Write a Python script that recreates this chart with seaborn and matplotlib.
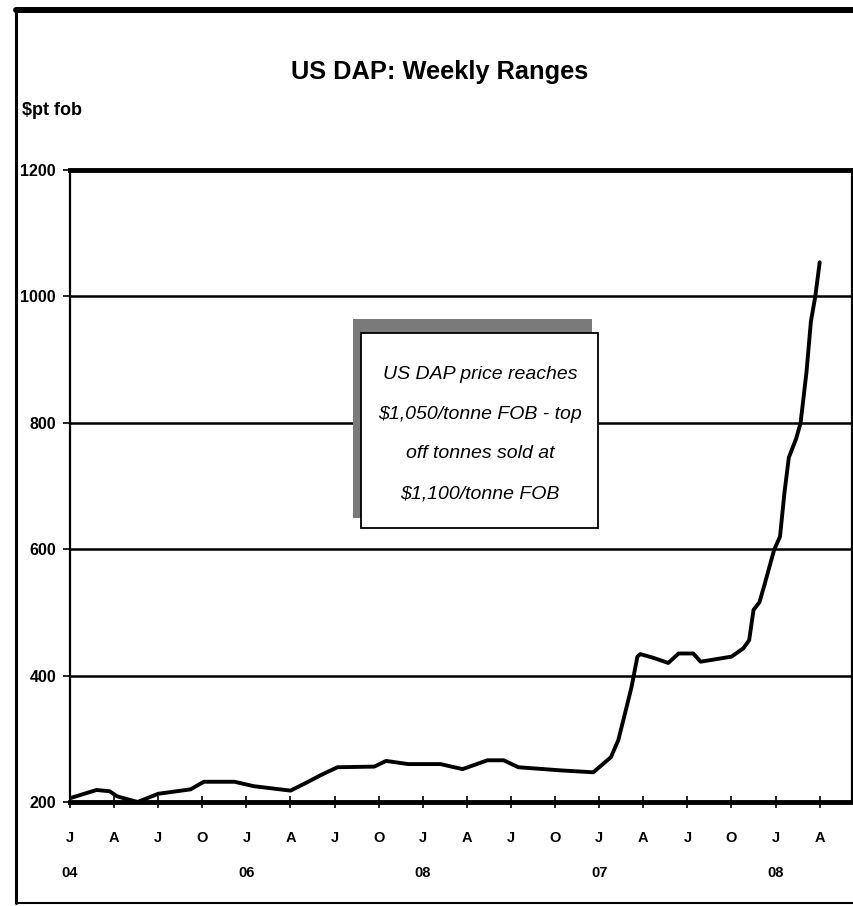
import matplotlib
matplotlib.use("Agg")
import matplotlib.pyplot as plt
import matplotlib.patches as mpatches
from matplotlib.lines import Line2D
import seaborn as sns
import pandas as pd

# months since Jan 2004, weekly price curve ($/t fob)
month = [0, 1.8, 2.7, 3.2, 4.6, 6.0, 8.2, 9.1, 11.2, 12.5, 15.0, 16.2, 17.1,
         18.2, 20.7, 21.5, 23.0, 25.2, 26.7, 28.4, 29.5, 30.5, 33.4, 35.6,
         36.8, 37.3, 37.7, 38.2, 38.6, 38.8, 39.7, 40.7, 41.4, 42.4, 42.9,
         45.0, 45.8, 46.2, 46.5, 46.9, 47.2, 47.9, 48.3, 48.6, 48.9, 49.1,
         49.4, 49.7, 50.1, 50.4, 50.7, 51.0]
price = [206, 219, 217, 209, 200, 213, 220, 232, 232, 225, 218, 232, 243,
         255, 256, 265, 260, 260, 252, 266, 266, 255, 250, 247,
         271, 298, 335, 382, 430, 434, 428, 420, 435, 435, 422,
         430, 443, 456, 504, 516, 540, 599, 620, 689, 745, 757,
         775, 800, 880, 960, 1000, 1054]

quarter_ticks = list(range(0, 52, 3))
quarter_labels = ["J", "A", "J", "O"] * 4 + ["J", "A"]
year_ticks = [0, 12, 24, 36, 48]
year_labels = ["04", "06", "08", "07", "08"]
y_ticks = [200, 400, 600, 800, 1000, 1200]

note = "US DAP price reaches\n$1,050/tonne FOB - top\noff tonnes sold at\n$1,100/tonne FOB"

sns.set_style("white")
plt.rcParams["font.family"] = ["Liberation Sans", "DejaVu Sans"]
for k in ["text.color", "xtick.color", "ytick.color", "axes.labelcolor"]:
    plt.rcParams[k] = "black"

df = pd.DataFrame({"month": month, "price": price})

W, H = 854, 906
fig = plt.figure(figsize=(W / 100, H / 100), dpi=100)
ax = fig.add_axes([70 / W, 1 - 802 / H, 782 / W, 632 / H])

sns.lineplot(data=df, x="month", y="price", ax=ax, color="black",
             linewidth=2.8, estimator=None, sort=False)

ax.set_xlim(0, 782 / 14.7)
ax.set_ylim(200, 1200)
ax.set_xlabel("")
ax.set_ylabel("")

ax.set_yticks(y_ticks)
ax.set_yticklabels([str(v) for v in y_ticks], fontsize=11.5, fontweight="bold")
ax.tick_params(axis="y", direction="out", length=5, width=1.2, pad=5,
               left=True)
ax.yaxis.grid(True, color="black", linewidth=1.8)
ax.set_axisbelow(True)

ax.xaxis.remove_overlapping_locs = False
ax.set_xticks(quarter_ticks)
ax.set_xticklabels(quarter_labels, fontsize=10.5, fontweight="bold")
ax.set_xticks(year_ticks, minor=True)
ax.set_xticklabels(year_labels, minor=True, fontsize=10.5, fontweight="bold")
ax.tick_params(axis="x", which="major", direction="inout", length=8,
               width=1.2, pad=17, bottom=True)
ax.tick_params(axis="x", which="minor", length=0, pad=46, bottom=True)

for s in ["top", "bottom"]:
    ax.spines[s].set_linewidth(3.5)
for s in ["left", "right"]:
    ax.spines[s].set_linewidth(1.6)
for s in ax.spines.values():
    s.set_color("black")

# title and unit label
fig.text(440 / W, 1 - 79 / H, "US DAP: Weekly Ranges", ha="center",
         va="baseline", fontsize=18.3, fontweight="bold")
fig.text(22 / W, 1 - 115 / H, "$pt fob", ha="left", va="baseline",
         fontsize=13, fontweight="bold")

# callout box with offset shadow
fig.add_artist(mpatches.Rectangle((353 / W, 1 - 518 / H), 239 / W, 199 / H,
                                  transform=fig.transFigure, facecolor="#7a7a7a",
                                  edgecolor="none", zorder=5))
fig.add_artist(mpatches.Rectangle((361 / W, 1 - 528 / H), 237 / W, 195 / H,
                                  transform=fig.transFigure, facecolor="white",
                                  edgecolor="black", linewidth=1.3, zorder=6))
fig.text(480 / W, 1 - 434 / H, note, ha="center", va="center",
         fontsize=14, style="italic", linespacing=2.75, zorder=7)

# outer frame
fig.add_artist(Line2D([16 / W, 1], [1 - 10 / H, 1 - 10 / H],
                      transform=fig.transFigure, color="black", linewidth=4.3))
fig.add_artist(Line2D([16 / W, 16 / W], [1 - 10 / H, 1 - 903 / H],
                      transform=fig.transFigure, color="black", linewidth=2.2))
fig.add_artist(Line2D([16 / W, 1], [1 - 903 / H, 1 - 903 / H],
                      transform=fig.transFigure, color="black", linewidth=1.5))

fig.savefig("out.png", dpi=100)
